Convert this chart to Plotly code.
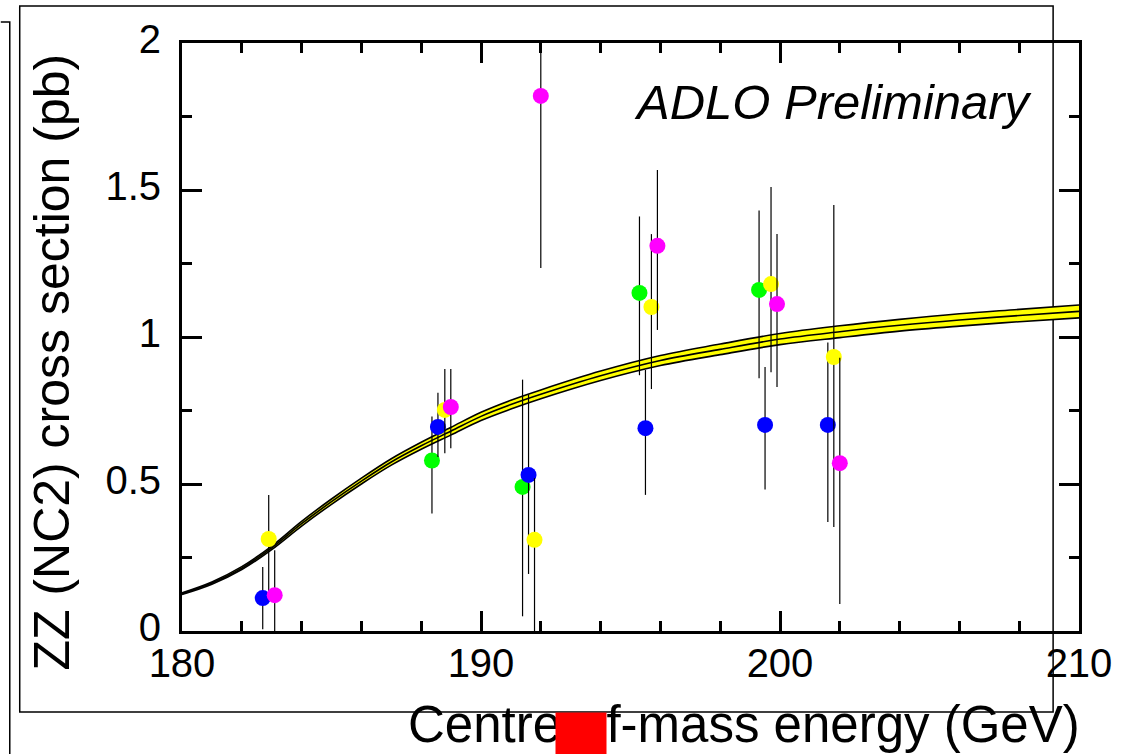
import plotly.graph_objects as go

# Standard Model ZZ (NC2) prediction: centre value and band half-width (pb)
energy_grid = [180, 181, 182, 183, 184, 185, 186, 187, 188, 189, 190, 191, 192,
               194, 196, 198, 200, 202, 204, 206, 208, 210]
sigma_theory = [0.127, 0.163, 0.214, 0.283, 0.365, 0.44, 0.51, 0.575, 0.63, 0.68,
                0.73, 0.77, 0.805, 0.868, 0.92, 0.958, 0.993, 1.018, 1.04, 1.058,
                1.073, 1.087]
sigma_theory_err = [0.003, 0.004, 0.005, 0.006, 0.008, 0.009, 0.010, 0.011, 0.012,
                    0.013, 0.014, 0.015, 0.015, 0.016, 0.017, 0.018, 0.019, 0.020,
                    0.020, 0.021, 0.021, 0.022]

# Measurements per experiment (energy in GeV, cross section in pb)
green_energy = [188.36, 191.39, 195.30, 199.30]
green_sigma = [0.58, 0.49, 1.15, 1.16]
green_err_up = [0.15, 0.365, 0.26, 0.27]
green_err_dn = [0.18, 0.44, 0.28, 0.30]

blue_energy = [182.70, 188.56, 191.59, 195.50, 199.50, 201.60]
blue_sigma = [0.112, 0.694, 0.531, 0.690, 0.701, 0.701]
blue_err_up = [0.106, 0.116, 0.273, 0.198, 0.197, 0.28]
blue_err_dn = [0.106, 0.102, 0.337, 0.227, 0.22, 0.33]

yellow_energy = [182.90, 188.79, 191.79, 195.70, 199.70, 201.80]
yellow_sigma = [0.313, 0.752, 0.31, 1.102, 1.18, 0.932]
yellow_err_up = [0.15, 0.139, 0.21, 0.248, 0.33, 0.517]
yellow_err_dn = [0.18, 0.147, 0.31, 0.279, 0.30, 0.578]

magenta_energy = [183.10, 188.99, 192.00, 195.90, 199.90, 202.00]
magenta_sigma = [0.122, 0.762, 1.82, 1.31, 1.112, 0.571]
magenta_err_up = [0.153, 0.129, 0.59, 0.258, 0.238, 0.358]
magenta_err_dn = [0.153, 0.14, 0.585, 0.286, 0.282, 0.479]

x_ticks = [180, 190, 200, 210]
y_ticks = [0, 0.5, 1, 1.5, 2]
y_tick_text = ["0", "0.5", "1", "1.5", "2"]

FONT = "Liberation Sans, Arial, sans-serif"
W, H = 1124, 754
L, R, T, B = 182, 41, 43, 123
PW, PH = W - L - R, H - T - B


def px(xp):
    return (xp - L) / PW


def py(yp):
    return (H - B - yp) / PH


fig = go.Figure()

upper = [s + e for s, e in zip(sigma_theory, sigma_theory_err)]
lower = [s - e for s, e in zip(sigma_theory, sigma_theory_err)]

fig.add_trace(go.Scatter(x=energy_grid, y=lower, mode="lines",
                         line=dict(color="black", width=1.6, shape="spline"),
                         hoverinfo="skip", showlegend=False))
fig.add_trace(go.Scatter(x=energy_grid, y=upper, mode="lines", fill="tonexty",
                         fillcolor="#ffff00",
                         line=dict(color="black", width=1.6, shape="spline"),
                         hoverinfo="skip", showlegend=False))
fig.add_trace(go.Scatter(x=energy_grid, y=sigma_theory, mode="lines",
                         line=dict(color="black", width=1.6, shape="spline"),
                         hoverinfo="skip", showlegend=False))

series = [
    ("green", "#00ff00", green_energy, green_sigma, green_err_up, green_err_dn),
    ("blue", "#0000ff", blue_energy, blue_sigma, blue_err_up, blue_err_dn),
    ("yellow", "#ffff00", yellow_energy, yellow_sigma, yellow_err_up, yellow_err_dn),
    ("magenta", "#ff00ff", magenta_energy, magenta_sigma, magenta_err_up, magenta_err_dn),
]
for name, col, xs, ys, eu, ed in series:
    fig.add_trace(go.Scatter(
        x=xs, y=ys, mode="markers", name=name,
        marker=dict(color=col, size=16, line=dict(width=0)),
        error_y=dict(type="data", symmetric=False, array=eu, arrayminus=ed,
                     color="black", thickness=1.2, width=0),
        showlegend=False,
    ))

axis_common = dict(
    showline=True, linecolor="black", linewidth=3, mirror="allticks",
    ticks="inside", ticklen=20, tickwidth=3, tickcolor="black",
    showgrid=False, zeroline=False,
    tickfont=dict(family=FONT, size=40, color="black"),
)

fig.update_xaxes(range=[180, 210], tickvals=x_ticks,
                 minor=dict(dtick=2, ticks="inside", ticklen=10, tickwidth=3,
                            tickcolor="black", showgrid=False),
                 ticklabelstandoff=-5, **axis_common)
fig.update_yaxes(range=[0, 2], tickvals=y_ticks, ticktext=y_tick_text,
                 minor=dict(dtick=0.25, ticks="inside", ticklen=10, tickwidth=3,
                            tickcolor="black", showgrid=False),
                 ticklabelstandoff=10, ticklabelshift=-4, **axis_common)

shapes = [
    # outer frame
    dict(type="rect", xref="paper", yref="paper",
         x0=px(19), x1=px(1057), y0=py(712), y1=py(6),
         line=dict(color="black", width=1.5), layer="below"),
    # left bracket
    dict(type="path", xref="paper", yref="paper",
         path=f"M {px(0)} {py(22)} L {px(9)} {py(22)} L {px(9)} {py(754)}",
         line=dict(color="black", width=1.5), layer="below"),
]

annotations = [
    dict(text="ZZ (NC2) cross section (pb)", textangle=-90,
         xref="paper", yref="paper", x=px(51), y=py(362),
         xanchor="center", yanchor="middle", showarrow=False,
         font=dict(family=FONT, size=50, color="black")),
    dict(text="Centre-of-mass energy (GeV)",
         xref="paper", yref="paper", x=px(1086), y=py(724),
         xanchor="right", yanchor="middle", showarrow=False,
         font=dict(family=FONT, size=51, color="black")),
    dict(text="<i>ADLO Preliminary</i>",
         xref="paper", yref="paper", x=px(1038), y=py(102),
         xanchor="right", yanchor="middle", showarrow=False,
         font=dict(family=FONT, size=49, color="black")),
    # red block over the axis title
    dict(text=" ", xref="paper", yref="paper", x=px(557), y=py(712),
         xanchor="left", yanchor="top", showarrow=False,
         width=50, height=42, bgcolor="#ff0000", borderpad=0,
         font=dict(size=10)),
]

fig.update_layout(
    width=W, height=H,
    margin=dict(l=L, r=R, t=T, b=B, pad=0),
    paper_bgcolor="white", plot_bgcolor="rgba(0,0,0,0)",
    shapes=shapes, annotations=annotations, showlegend=False,
)

fig.write_html("out.html")
